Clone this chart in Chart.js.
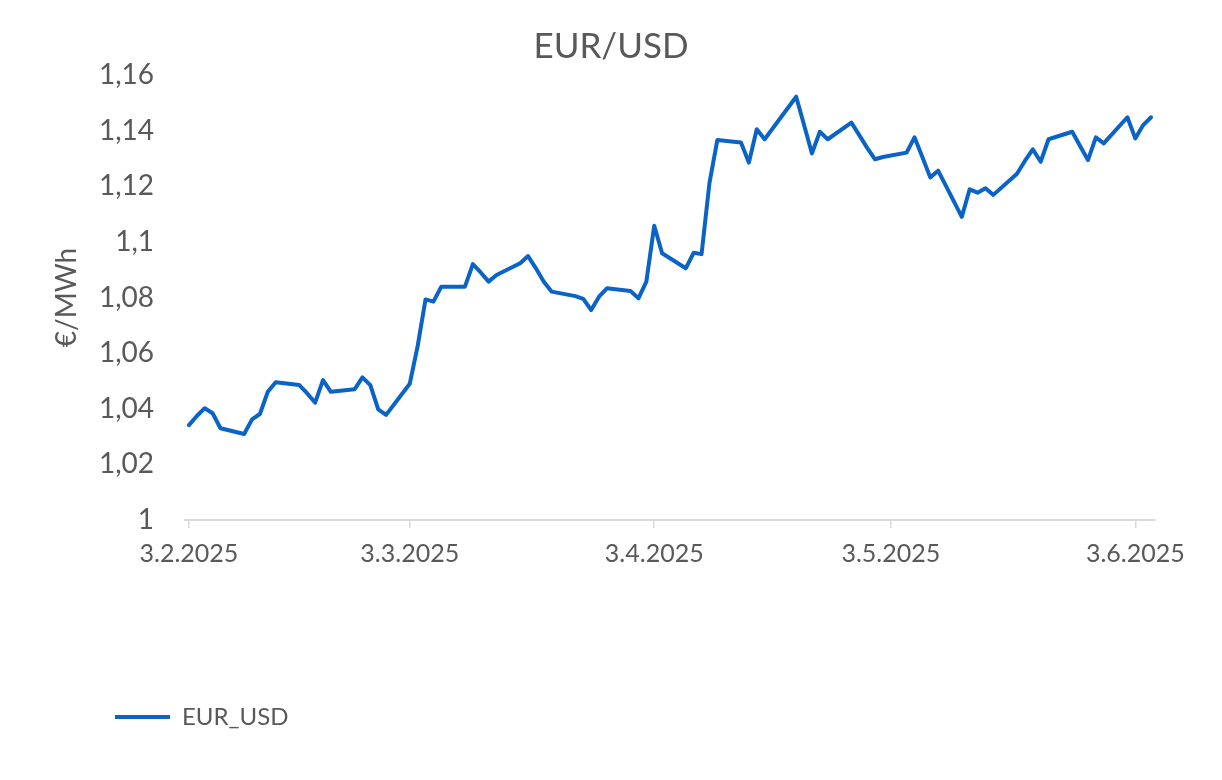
<!DOCTYPE html>
<html>
  <head>
    <title>EUR/USD</title>
    <script src="https://cdn.jsdelivr.net/npm/chart.js"></script>
    <style>
      body {
        margin: 0;
        padding: 0;
        background: #ffffff;
      }
      #wrap {
        width: 1222px;
        height: 780px;
      }
    </style>
  </head>
  <body>
    <div id="wrap"><canvas id="myChart"></canvas></div>
    <script>
      // trading days and daily rate
      const dates = [
        "3.2.2025", "4.2.2025", "5.2.2025", "6.2.2025", "7.2.2025",
        "10.2.2025", "11.2.2025", "12.2.2025", "13.2.2025", "14.2.2025",
        "17.2.2025", "18.2.2025", "19.2.2025", "20.2.2025", "21.2.2025",
        "24.2.2025", "25.2.2025", "26.2.2025", "27.2.2025", "28.2.2025",
        "3.3.2025", "4.3.2025", "5.3.2025", "6.3.2025", "7.3.2025",
        "10.3.2025", "11.3.2025", "12.3.2025", "13.3.2025", "14.3.2025",
        "17.3.2025", "18.3.2025", "19.3.2025", "20.3.2025", "21.3.2025",
        "24.3.2025", "25.3.2025", "26.3.2025", "27.3.2025", "28.3.2025",
        "31.3.2025", "1.4.2025", "2.4.2025", "3.4.2025", "4.4.2025",
        "7.4.2025", "8.4.2025", "9.4.2025", "10.4.2025", "11.4.2025",
        "14.4.2025", "15.4.2025", "16.4.2025", "17.4.2025",
        "21.4.2025", "22.4.2025", "23.4.2025", "24.4.2025", "25.4.2025",
        "28.4.2025", "29.4.2025", "30.4.2025", "1.5.2025", "2.5.2025",
        "5.5.2025", "6.5.2025", "7.5.2025", "8.5.2025", "9.5.2025",
        "12.5.2025", "13.5.2025", "14.5.2025", "15.5.2025", "16.5.2025",
        "19.5.2025", "20.5.2025", "21.5.2025", "22.5.2025", "23.5.2025",
        "26.5.2025", "27.5.2025", "28.5.2025", "29.5.2025", "30.5.2025",
        "2.6.2025", "3.6.2025", "4.6.2025", "5.6.2025"
      ];
      const eurUsd = [
        1.0341, 1.0374, 1.0402, 1.0384, 1.0330,
        1.0309, 1.0362, 1.0381, 1.0461, 1.0495,
        1.0485, 1.0455, 1.0422, 1.0503, 1.0461,
        1.0470, 1.0513, 1.0485, 1.0398, 1.0378,
        1.0490, 1.0625, 1.0793, 1.0785, 1.0839,
        1.0839, 1.0920, 1.0890, 1.0857, 1.0881,
        1.0923, 1.0949, 1.0905, 1.0857, 1.0821,
        1.0805, 1.0795, 1.0755, 1.0803, 1.0833,
        1.0823, 1.0797, 1.0857, 1.1058, 1.0959,
        1.0905, 1.0961, 1.0956, 1.1211, 1.1366,
        1.1357, 1.1285, 1.1405, 1.1369,
        1.1522, 1.1420, 1.1318, 1.1396, 1.1369,
        1.1429, 1.1384, 1.1338, 1.1297, 1.1305,
        1.1321, 1.1376, 1.1305, 1.1232, 1.1256,
        1.1090, 1.1189, 1.1177, 1.1193, 1.1169,
        1.1245, 1.1291, 1.1333, 1.1288, 1.1369,
        1.1396, 1.1345, 1.1294, 1.1376, 1.1354,
        1.1448, 1.1372, 1.1420, 1.1448
      ];
      const tickDates = ["3.2.2025", "3.3.2025", "3.4.2025", "3.5.2025", "3.6.2025"];

      const textColor = "#595959";
      const fontFamily = "Lato, 'Open Sans', sans-serif";

      // days since first date
      function dayIndex(s) {
        const [d, m, y] = s.split(".").map(Number);
        return (Date.UTC(y, m - 1, d) - Date.UTC(2025, 1, 3)) / 86400000;
      }

      const points = dates.map((d, i) => ({ x: dayIndex(d), y: eurUsd[i] }));

      // legend moved right, title centred on whole canvas (like the excel one)
      const boxShift = {
        id: "boxShift",
        afterLayout(chart) {
          chart.legend.left += 105;
          chart.titleBlock.left = 0;
          chart.titleBlock.right = chart.width;
        },
      };

      new Chart(document.getElementById("myChart"), {
        type: "line",
        data: {
          datasets: [
            {
              label: "EUR_USD",
              data: points,
              borderColor: "#0a63c6",
              backgroundColor: "#0a63c6",
              borderWidth: 4,
              pointRadius: 0,
              tension: 0,
              borderJoinStyle: "round",
              borderCapStyle: "round",
            },
          ],
        },
        options: {
          responsive: true,
          maintainAspectRatio: false,
          animation: false,
          layout: {
            padding: { left: 0, right: 67, top: 0, bottom: 41 },
          },
          scales: {
            x: {
              type: "linear",
              min: -0.5,
              max: 122.5,
              afterBuildTicks: (scale) => {
                scale.ticks = tickDates.map((d) => ({ value: dayIndex(d) }));
              },
              afterFit: (scale) => {
                scale.height = 175;
              },
              ticks: {
                autoSkip: false,
                maxRotation: 0,
                padding: 11,
                color: textColor,
                font: { family: fontFamily, size: 25 },
                callback: (value, index) => tickDates[index],
              },
              grid: {
                drawOnChartArea: false,
                drawTicks: true,
                tickLength: 8,
                color: "#d9d9d9",
                lineWidth: 1.5,
              },
              border: { color: "#d9d9d9", width: 2 },
            },
            y: {
              min: 1,
              max: 1.16,
              afterBuildTicks: (scale) => {
                const t = [];
                for (let i = 0; i <= 8; i++) t.push({ value: 1 + i * 0.02 });
                scale.ticks = t;
              },
              afterFit: (scale) => {
                scale.width = 185;
              },
              ticks: {
                padding: 31,
                color: textColor,
                font: { family: fontFamily, size: 28 },
                callback: (value) =>
                  String(Math.round(value * 100) / 100).replace(".", ","),
              },
              grid: { display: false, drawTicks: false },
              border: { display: false },
              title: {
                display: true,
                text: "€/MWh",
                color: textColor,
                font: { family: fontFamily, size: 28 },
                padding: { top: 50, bottom: 0 },
              },
            },
          },
          plugins: {
            title: {
              display: true,
              text: "EUR/USD",
              color: textColor,
              font: { family: fontFamily, size: 35, weight: "normal" },
              padding: { top: 26, bottom: 7 },
            },
            legend: {
              position: "bottom",
              align: "start",
              labels: {
                usePointStyle: true,
                pointStyle: "line",
                pointStyleWidth: 55,
                padding: 10,
                color: textColor,
                font: { family: fontFamily, size: 24 },
              },
            },
            tooltip: { enabled: false },
          },
        },
        plugins: [boxShift],
      });
    </script>
  </body>
</html>
